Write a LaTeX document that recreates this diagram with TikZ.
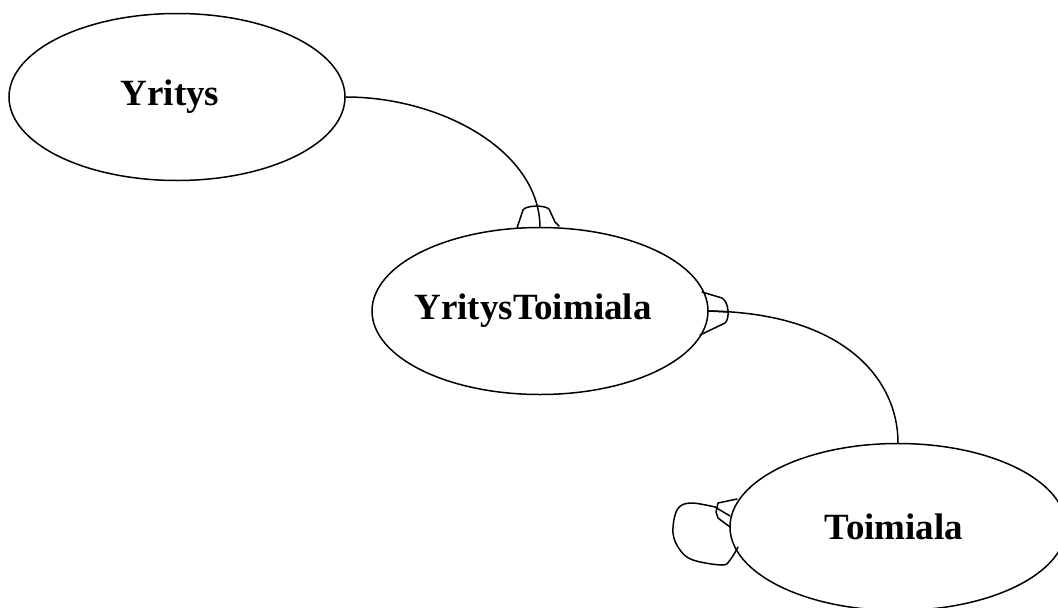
\documentclass[tikz,border=0pt]{standalone}
\usepackage{fontspec}
\setmainfont{Liberation Serif}
\usetikzlibrary{shapes.geometric}
\begin{document}
\begin{tikzpicture}[x=1pt,y=-1pt,
  ent/.style={draw,ellipse,line width=1.5pt,minimum width=336pt,minimum height=167pt,inner sep=0pt,font=\fontsize{37}{40}\selectfont\bfseries},
  con/.style={line width=1.5pt,line join=round,line cap=round}]
\useasboundingbox (0,0) rectangle (1058,608);
\clip (0,0) rectangle (1058,608);
\node[ent] (Y) at (177,97) {\hspace*{-14pt}Yritys};
\node[ent] (YT) at (540,311) {\hspace*{-14pt}YritysToimiala};
\node[ent] (T) at (898,527) {\hspace*{-8pt}Toimiala};
% edge Yritys -> YritysToimiala
\draw[con] (Y.east) .. controls (440,97) and (539,150) .. (YT.north);
\draw[con] (517,228) -- (523,210) .. controls (526,205) and (545,205) .. (549,209) -- (555,222) -- (559,226);
% edge YritysToimiala -> Toimiala
\draw[con] (YT.east) .. controls (845,313) and (898,380) .. (T.north);
\draw[con] (702,292) -- (722,298) .. controls (729,302) and (730,319) .. (725,323) -- (700,335);
\draw[con] (YT.east) -- (728,312);
% self loop on Toimiala
\draw[con] (737,499) -- (718,503) -- (716,512) -- (718,518) -- (730,527);
\draw[con] (715,507) -- (730,516);
\draw[con] plot[smooth,tension=0.6] coordinates {(715,507) (690,503) (677,510) (673,533) (680,550) (693,560) (722,565) (730,560) (738,547)};
\end{tikzpicture}
\end{document}
